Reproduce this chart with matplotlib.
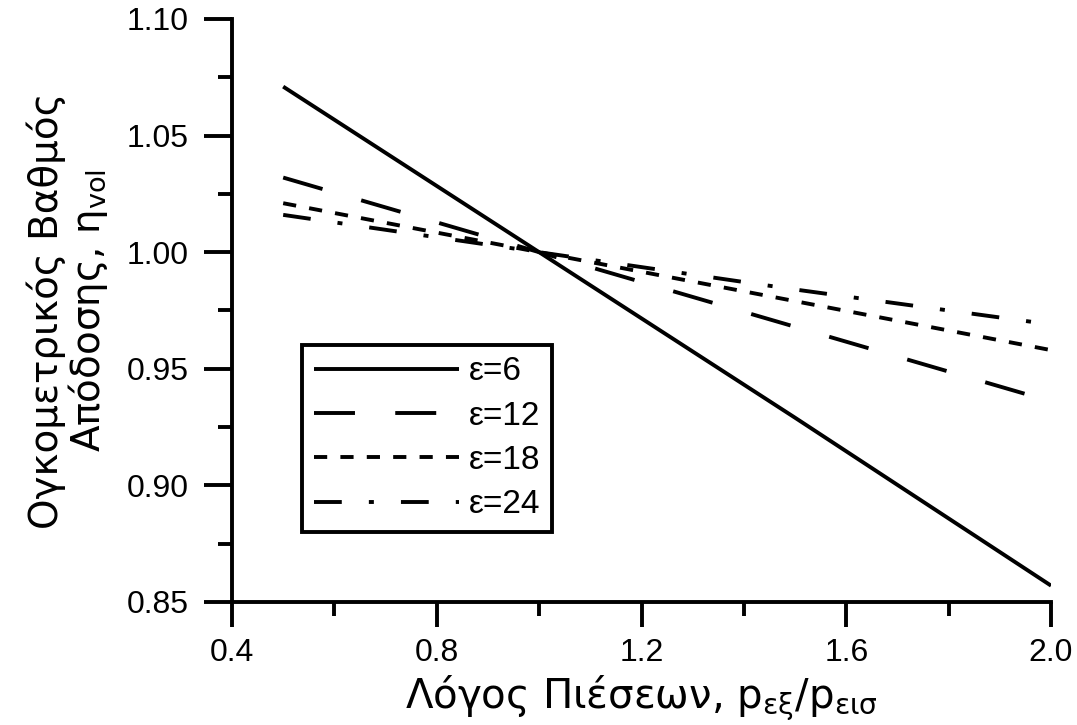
import numpy as np
import matplotlib
matplotlib.use('Agg')
import matplotlib.pyplot as plt
from matplotlib.ticker import MultipleLocator, FormatStrFormatter

plt.rcParams['font.family'] = ['Liberation Sans', 'DejaVu Sans']
plt.rcParams['mathtext.fontset'] = 'custom'
plt.rcParams['mathtext.rm'] = 'Liberation Sans Narrow'
plt.rcParams['lines.scale_dashes'] = False

# pressure ratio and volumetric efficiency for each compression ratio
ratio = [0.5, 1.0, 1.5, 2.0]
eta_6 = [1.071, 1.000, 0.929, 0.857]
eta_12 = [1.032, 1.000, 0.968, 0.936]
eta_18 = [1.021, 1.000, 0.979, 0.958]
eta_24 = [1.016, 1.000, 0.984, 0.969]
labels = ['ε=6', 'ε=12', 'ε=18', 'ε=24']

fig = plt.figure(figsize=(10.77, 7.25), dpi=100)
ax = fig.add_axes([0.2154, 0.1697, 0.7605, 0.8041])

lw = 2.8
ax.plot(ratio, eta_6, color='k', lw=lw, solid_capstyle='butt', label=labels[0])
ax.plot(ratio, eta_12, color='k', lw=lw, dashes=(29.5, 29), dash_capstyle='butt', label=labels[1])
ax.plot(ratio, eta_18, color='k', lw=lw, dashes=(9.5, 9.5), dash_capstyle='butt', label=labels[2])
ax.plot(ratio, eta_24, color='k', lw=lw, dashes=(20, 19.5, 3.6, 19.5), dash_capstyle='butt', label=labels[3])

ax.set_xlim(0.4, 2.0)
ax.set_ylim(0.85, 1.10)
ax.xaxis.set_major_locator(MultipleLocator(0.4))
ax.xaxis.set_minor_locator(MultipleLocator(0.2))
ax.yaxis.set_major_locator(MultipleLocator(0.05))
ax.yaxis.set_minor_locator(MultipleLocator(0.025))
ax.xaxis.set_major_formatter(FormatStrFormatter('%.1f'))
ax.yaxis.set_major_formatter(FormatStrFormatter('%.2f'))

for s in ['top', 'right']:
    ax.spines[s].set_visible(False)
for s in ['left', 'bottom']:
    ax.spines[s].set_linewidth(2.8)

ax.tick_params(axis='x', which='major', length=18, width=2.8, direction='out', labelsize=23, pad=8)
ax.tick_params(axis='y', which='major', length=20, width=2.8, direction='out', labelsize=23, pad=11)
ax.tick_params(which='minor', length=10, width=2.8, direction='out')

ax.set_xlabel(r'Λόγος Πιέσεων, $\mathregular{p_{εξ}/p_{εισ}}$', fontsize=29,
              family=['Liberation Sans Narrow', 'DejaVu Sans'], va='bottom')
ax.xaxis.set_label_coords(0.5, -0.208)
ax.set_ylabel('Ογκομετρικός Βαθμός\n' + r'Απόδοσης, $\mathregular{η_{vol}}$', fontsize=28,
              family=['Liberation Sans Narrow', 'DejaVu Sans'], linespacing=1.0, labelpad=12)

leg = ax.legend(loc='lower left', bbox_to_anchor=(0.0855, 0.12), borderaxespad=0,
                fontsize=24, handlelength=4.35, handletextpad=0.3, labelspacing=0.4,
                frameon=True, fancybox=False, edgecolor='k', framealpha=1, borderpad=0.35)
leg.get_frame().set_linewidth(2.8)

plt.savefig('out.png', dpi=100)
